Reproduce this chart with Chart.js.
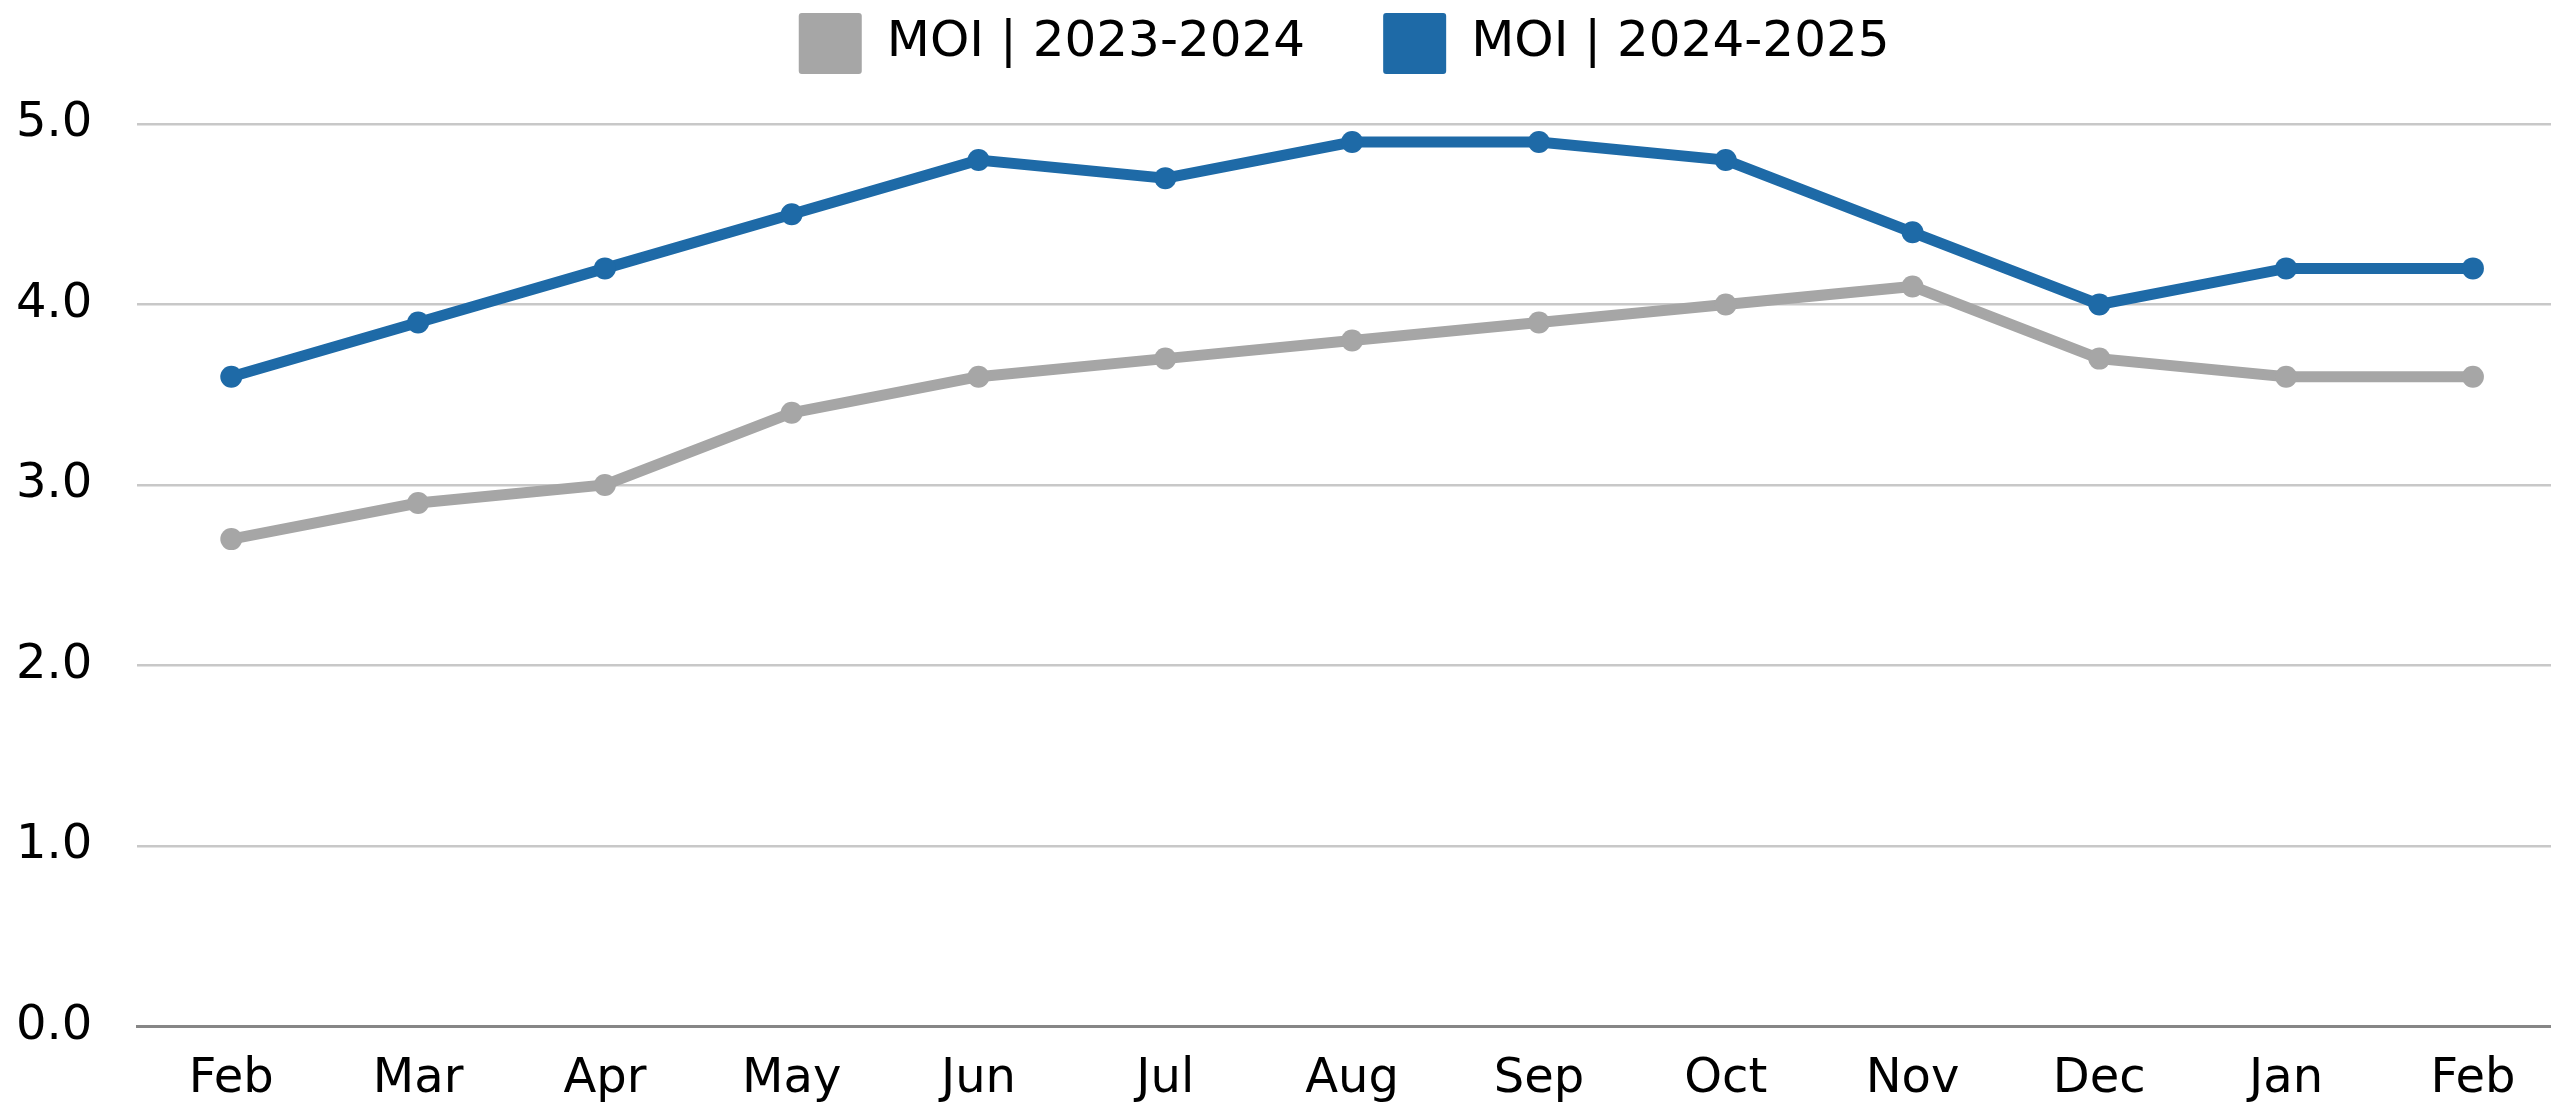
<!DOCTYPE html>
<html>
<head>
<meta charset="utf-8">
<script src="https://cdn.jsdelivr.net/npm/chart.js@4.4.1/dist/chart.umd.min.js"></script>
<style>
  html, body { margin: 0; padding: 0; background: #fff; }
  #wrap { width: 2551px; height: 1108px; position: relative; }
</style>
</head>
<body>
<div id="wrap"><canvas id="moiChart"></canvas></div>
<script>
// ===== MOI chart data =====
const months = ['Feb', 'Mar', 'Apr', 'May', 'Jun', 'Jul', 'Aug', 'Sep', 'Oct', 'Nov', 'Dec', 'Jan', 'Feb'];
const moi2324 = [2.7, 2.9, 3.0, 3.4, 3.6, 3.7, 3.8, 3.9, 4.0, 4.1, 3.7, 3.6, 3.6];
const moi2425 = [3.6, 3.9, 4.2, 4.5, 4.8, 4.7, 4.9, 4.9, 4.8, 4.4, 4.0, 4.2, 4.2];
const seriesNames = ['MOI | 2023-2024', 'MOI | 2024-2025'];
const yTicks = [0, 1, 2, 3, 4, 5];

const GRAY = '#a6a6a6';
const BLUE = '#1e6aa7';
const FONT = '"DejaVu Sans", sans-serif';

function toPoints(values) {
    return values.map((v, i) => ({ x: i, y: v }));
}

// push the plot area down a bit below the legend
const legendGap = {
    id: 'legendGap',
    beforeInit(chart) {
        const fit = chart.legend.fit;
        chart.legend.fit = function () {
            fit.bind(chart.legend)();
            this.height += 40;
        };
    }
};

const ctx = document.getElementById('moiChart').getContext('2d');

new Chart(ctx, {
    type: 'line',
    data: {
        datasets: [{
            label: seriesNames[0],
            data: toPoints(moi2324),
            borderColor: GRAY,
            backgroundColor: GRAY,
            pointBackgroundColor: GRAY,
            pointBorderColor: GRAY,
            borderWidth: 11,
            pointRadius: 11,
            pointBorderWidth: 0,
            tension: 0
        }, {
            label: seriesNames[1],
            data: toPoints(moi2425),
            borderColor: BLUE,
            backgroundColor: BLUE,
            pointBackgroundColor: BLUE,
            pointBorderColor: BLUE,
            borderWidth: 11,
            pointRadius: 11,
            pointBorderWidth: 0,
            tension: 0
        }]
    },
    options: {
        responsive: true,
        maintainAspectRatio: false,
        animation: false,
        layout: {
            autoPadding: false,
            padding: { top: -65, left: -29, right: 0, bottom: -24 }
        },
        plugins: {
            legend: {
                position: 'top',
                fullSize: false,
                labels: {
                    boxWidth: 63,
                    boxHeight: 61,
                    padding: 78,
                    color: '#000',
                    font: { family: FONT, size: 50 },
                    useBorderRadius: true,
                    borderRadius: 3,
                    generateLabels(chart) {
                        return Chart.defaults.plugins.legend.labels.generateLabels(chart)
                            .map(item => ({ ...item, lineWidth: 0 }));
                    }
                }
            },
            tooltip: { enabled: false }
        },
        scales: {
            x: {
                type: 'linear',
                min: -0.503,
                max: 12.418,
                grid: { display: false, drawTicks: false },
                border: { display: true, color: '#868686', width: 3 },
                afterBuildTicks: axis => {
                    axis.ticks = months.map((m, i) => ({ value: i }));
                },
                afterFit: axis => {
                    // month labels sit inside the plot, no side overflow
                    axis.paddingLeft = 0;
                    axis.paddingRight = 0;
                },
                ticks: {
                    autoSkip: false,
                    maxRotation: 0,
                    padding: 24,
                    color: '#000',
                    font: { family: FONT, size: 48 },
                    callback: value => months[value]
                }
            },
            y: {
                min: 0,
                max: 5,
                grid: { color: '#c8c8c8', lineWidth: 2.5, drawTicks: false },
                border: { display: false },
                afterBuildTicks: axis => {
                    axis.ticks = yTicks.map(v => ({ value: v }));
                },
                ticks: {
                    padding: 45,
                    color: '#000',
                    font: { family: FONT, size: 48 },
                    callback: value => value.toFixed(1)
                }
            }
        }
    },
    plugins: [legendGap]
});
</script>
</body>
</html>
